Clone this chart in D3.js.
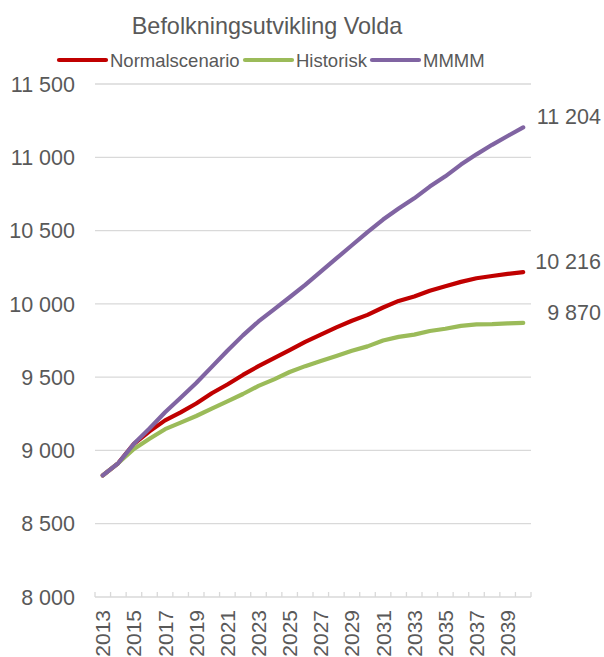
<!DOCTYPE html>
<html><head><meta charset="utf-8">
<script src="https://cdn.jsdelivr.net/npm/d3@7"></script>
<style>body{margin:0;background:#fff;} text{font-family:"Liberation Sans",Arial,sans-serif;fill:#595959;}</style>
</head><body>
<svg id="c" width="604" height="657"></svg>
<script>
const years = d3.range(2013, 2041);
const normalscenario = [8830,8914,9045,9130,9205,9260,9320,9390,9450,9515,9575,9630,9685,9740,9790,9840,9885,9925,9975,10020,10050,10090,10120,10150,10175,10190,10205,10216];
const historisk = [8830,8914,9010,9080,9145,9190,9235,9285,9335,9385,9440,9485,9535,9575,9610,9645,9680,9710,9750,9775,9790,9815,9830,9850,9860,9862,9867,9870];
const mmmm = [8830,8914,9045,9150,9260,9360,9460,9570,9680,9785,9880,9962,10045,10130,10220,10310,10400,10490,10575,10650,10720,10800,10870,10950,11020,11085,11145,11204];
const seriesNames = ["Normalscenario","Historisk","MMMM"];
const seriesColors = ["#C00000","#9BBB59","#8064A2"];
const yTicks = [8000,8500,9000,9500,10000,10500,11000,11500];
const title = "Befolkningsutvikling Volda";

const series = [normalscenario, historisk, mmmm];
const svg = d3.select("#c");
const x = d3.scaleBand().domain(years).range([95,531]);
const y = d3.scaleLinear().domain([8000,11500]).range([597,84]);
const fmt = v => d3.format(",")(v).replace(/,/g," ");

svg.append("g").selectAll("line").data(yTicks.filter(t=>t>8000)).join("line")
  .attr("x1",95).attr("x2",531).attr("y1",d=>y(d)).attr("y2",d=>y(d))
  .attr("stroke","#D9D9D9").attr("stroke-width",1.3);

svg.append("g").selectAll("text").data(yTicks).join("text")
  .attr("x",75).attr("y",d=>y(d)).attr("dy","0.36em").attr("text-anchor","end")
  .style("font-size","21.5px").text(fmt);

svg.append("line").attr("x1",95).attr("x2",531).attr("y1",y(8000)).attr("y2",y(8000))
  .attr("stroke","#D9D9D9").attr("stroke-width",1.3);
const bounds = years.map(d=>x(d)).concat([x(years[years.length-1])+x.bandwidth()]);
svg.append("g").selectAll("line").data(bounds).join("line")
  .attr("x1",d=>d).attr("x2",d=>d).attr("y1",y(8000)).attr("y2",y(8000)-5)
  .attr("stroke","#D9D9D9").attr("stroke-width",1.3);

svg.append("g").selectAll("text").data(years.filter((d,i)=>i%2===0)).join("text")
  .attr("transform",d=>`translate(${x(d)+x.bandwidth()/2},610) rotate(-90)`)
  .attr("dy","0.36em").attr("text-anchor","end").style("font-size","21px").text(d=>d);

const line = d3.line().x((d,i)=>x(years[i])+x.bandwidth()/2).y(d=>y(d));
series.forEach((s,k)=>{
  svg.append("path").datum(s).attr("d",line).attr("fill","none")
    .attr("stroke",seriesColors[k]).attr("stroke-width",4.2)
    .attr("stroke-linecap","round").attr("stroke-linejoin","round");
});
series.forEach((s,k)=>{
  const v = s[s.length-1];
  svg.append("text").attr("x",601).attr("y",y(v)-11).attr("dy","0.36em")
    .attr("text-anchor","end").style("font-size","21.5px").text(fmt(v));
});

svg.append("text").attr("x",267).attr("y",34).attr("text-anchor","middle")
  .style("font-size","23.4px").text(title);

const legX = [59,245,372];
seriesNames.forEach((n,k)=>{
  const g = svg.append("g");
  g.append("line").attr("x1",legX[k]).attr("x2",legX[k]+47).attr("y1",60).attr("y2",60)
    .attr("stroke",seriesColors[k]).attr("stroke-width",4.2).attr("stroke-linecap","round");
  g.append("text").attr("x",legX[k]+51).attr("y",60).attr("dy","0.36em")
    .style("font-size","18.5px").text(n);
});
</script>
</body></html>
